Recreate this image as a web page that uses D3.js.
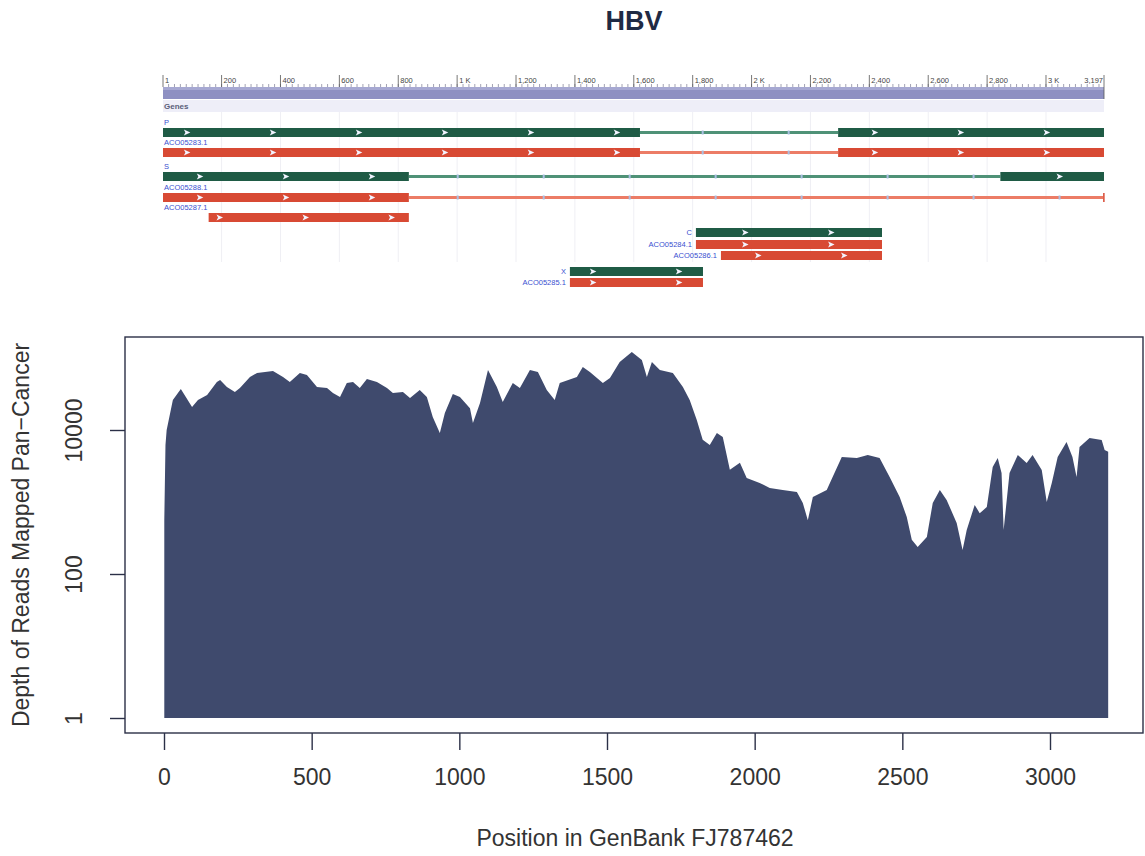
<!DOCTYPE html>
<html>
<head>
<meta charset="utf-8">
<script src="https://cdn.jsdelivr.net/npm/d3@7"></script>
<style>
  body { margin: 0; background: #ffffff; }
  svg { display: block; }
</style>
</head>
<body>
<svg id="chart" width="1145" height="856"></svg>
<script>
// ---- coverage profile (position in bp, read depth) ----
const chartTitle = "HBV";
const positions = [1, 5, 9, 30, 57, 95, 115, 146, 179, 190, 213, 240, 257, 291, 315, 369, 403, 426, 460, 484,
  518, 552, 572, 596, 619, 640, 663, 687, 721, 755, 775, 809, 833, 866, 890, 910, 934, 951, 978, 1002,
  1036, 1046, 1070, 1097, 1127, 1147, 1181, 1205, 1239, 1266, 1296, 1323, 1340, 1398, 1418, 1442, 1486, 1510, 1543, 1584,
  1618, 1635, 1652, 1679, 1723, 1757, 1780, 1804, 1824, 1848, 1872, 1892, 1916, 1950, 1973, 2017, 2051, 2095, 2143, 2163,
  2180, 2197, 2244, 2264, 2295, 2346, 2383, 2423, 2457, 2491, 2515, 2532, 2552, 2583, 2603, 2627, 2650, 2684, 2704, 2718,
  2745, 2762, 2786, 2806, 2823, 2836, 2843, 2863, 2891, 2921, 2941, 2972, 2989, 3006, 3026, 3056, 3076, 3090, 3100, 3134,
  3175, 3185, 3197];
const depths = [560, 6200, 10000, 26100, 37100, 20900, 26100, 30600, 46400, 49500, 39600, 33700, 38300, 54500, 61900, 65900, 54500, 46400, 61900, 58100,
  39600, 38300, 32700, 28700, 45000, 46400, 38300, 51100, 46400, 38300, 32700, 33700, 27800, 35900, 28700, 15200, 9100, 17200, 31500, 28700,
  20000, 12500, 23700, 68100, 39600, 24500, 45000, 38300, 68100, 63900, 35900, 26100, 45000, 54500, 75000, 63900, 45000, 52700, 88000, 121000,
  93800, 54500, 88000, 68100, 61900, 39600, 26100, 13800, 7300, 6200, 9100, 8000, 2800, 3500, 2150, 1840, 1570, 1470, 1380, 970,
  560, 1170, 1470, 2220, 4220, 4080, 4500, 4080, 2220, 1170, 620, 300, 237, 326, 970, 1470, 1070, 510, 215, 410,
  910, 700, 850, 3060, 4080, 2530, 410, 2530, 4500, 3480, 4500, 2780, 1000, 1840, 4220, 6810, 4220, 2220, 5810, 7740,
  7260, 5270, 5000];

const xTickValues = [0, 500, 1000, 1500, 2000, 2500, 3000];
const yTickValues = [1, 100, 10000];
const xAxisTitle = "Position in GenBank FJ787462";
const yAxisTitle = "Depth of Reads Mapped Pan\u2212Cancer";

// ---- genome annotation track ----
const genomeLength = 3197;
const rulerTicks = [1, 200, 400, 600, 800, 1000, 1200, 1400, 1600, 1800, 2000, 2200, 2400, 2600, 2800, 3000];
const rulerLabels = ["1", "200", "400", "600", "800", "1 K", "1,200", "1,400", "1,600", "1,800", "2 K", "2,200", "2,400", "2,600", "2,800", "3 K"];

const featureNames = ["P", "ACO05283.1", "S", "ACO05288.1", "ACO05287.1", "C", "ACO05284.1", "ACO05286.1", "X", "ACO05285.1"];
const featureTypes = ["gene", "cds", "gene", "cds", "cds", "gene", "cds", "cds", "gene", "cds"];
// solid blocks (bp)
const featureBlocks = [
  [[1, 1621], [2294, 3197]],
  [[1, 1621], [2294, 3197]],
  [[1, 836], [2845, 3197]],
  [[1, 836], [3194, 3197]],
  [[156, 836]],
  [[1811, 2443]],
  [[1811, 2443]],
  [[1896, 2443]],
  [[1383, 1835]],
  [[1383, 1835]]
];
// thin connecting spans (bp)
const featureLinks = [
  [[1621, 2294]],
  [[1621, 2294]],
  [[836, 2845]],
  [[836, 3194]],
  [], [], [], [], [], []
];
// first strand-arrow position of each feature (bp)
const featureArrowStart = [82, 82, 126, 126, 193, 1978, 1978, 2022, 1461, 1461];
const arrowSpacing = 292;

// ---- layout ----
const frame = { left: 125, right: 1143, top: 337, bottom: 733 };
const rowTops = [128, 148, 172, 193, 213, 228, 240, 251, 267, 278];
const labelSide = ["above", "above", "above", "above", "above", "left", "left", "left", "left", "left"];
const barH = 9;
const font = "'Liberation Sans', Arial, Helvetica, sans-serif";
const textColor = "#333333";
const axisColor = "#2b3047";
const areaColor = "#3f4a6d";
const geneColor = "#1f5b45", cdsColor = "#d84a34";
const geneLinkColor = "#4f9277", cdsLinkColor = "#ec7c66";

const svg = d3.select("#chart");

// title
svg.append("text")
  .attr("x", 634).attr("y", 30)
  .attr("text-anchor", "middle")
  .attr("font-family", font).attr("font-weight", "bold").attr("font-size", 27)
  .attr("fill", "#1f2a44")
  .text(chartTitle);

// ================= annotation track =================
const gx = d3.scaleLinear().domain([1, genomeLength]).range([163, 1104]);
const track = svg.append("g");

// faint vertical grid at ruler ticks
track.append("g").selectAll("line").data(rulerTicks.slice(1)).join("line")
  .attr("x1", d => gx(d)).attr("x2", d => gx(d))
  .attr("y1", 100).attr("y2", 262)
  .attr("stroke", "#efeff4").attr("stroke-width", 1);

// ruler band
track.append("rect")
  .attr("x", gx(1)).attr("y", 87)
  .attr("width", gx(genomeLength) - gx(1)).attr("height", 12)
  .attr("fill", "#8e90c2");
track.append("rect")
  .attr("x", gx(1)).attr("y", 87)
  .attr("width", gx(genomeLength) - gx(1)).attr("height", 3)
  .attr("fill", "#a6a8d2");

// minor ruler ticks
track.append("g").selectAll("line").data(d3.range(20, genomeLength, 20)).join("line")
  .attr("x1", d => gx(d)).attr("x2", d => gx(d))
  .attr("y1", 84).attr("y2", 87)
  .attr("stroke", "#8a8aa0").attr("stroke-width", 0.8);

// major ruler ticks and labels
const rt = track.append("g").selectAll("g").data(rulerTicks).join("g")
  .attr("transform", d => `translate(${gx(d)},0)`);
rt.append("line").attr("y1", 75).attr("y2", 87)
  .attr("stroke", "#555").attr("stroke-width", 0.8);
rt.append("text")
  .attr("x", 2).attr("y", 83)
  .attr("font-family", font).attr("font-size", 7.5).attr("fill", "#444")
  .text((d, i) => rulerLabels[i]);
track.append("line")
  .attr("x1", gx(genomeLength)).attr("x2", gx(genomeLength))
  .attr("y1", 75).attr("y2", 99).attr("stroke", "#555").attr("stroke-width", 0.8);
track.append("text")
  .attr("x", gx(genomeLength) - 1).attr("y", 83)
  .attr("text-anchor", "end")
  .attr("font-family", font).attr("font-size", 7.5).attr("fill", "#444")
  .text(d3.format(",")(genomeLength));

// "Genes" header strip
track.append("rect")
  .attr("x", gx(1)).attr("y", 100)
  .attr("width", gx(genomeLength) - gx(1)).attr("height", 12)
  .attr("fill", "#eeeef8");
track.append("text")
  .attr("x", 164).attr("y", 109)
  .attr("font-family", font).attr("font-weight", "bold").attr("font-size", 8)
  .attr("fill", "#5a5e78")
  .text("Genes");

// features
const arrowPath = "M-3,-3 L3.5,0 L-3,3 L-1.5,0 Z";
featureNames.forEach((name, i) => {
  const g = track.append("g");
  const top = rowTops[i];
  const mid = top + barH / 2;
  const solid = featureTypes[i] === "gene" ? geneColor : cdsColor;
  const link = featureTypes[i] === "gene" ? geneLinkColor : cdsLinkColor;

  g.selectAll("rect.link").data(featureLinks[i]).join("rect")
    .attr("class", "link")
    .attr("x", d => gx(d[0])).attr("y", mid - 1.5)
    .attr("width", d => gx(d[1]) - gx(d[0])).attr("height", 3)
    .attr("fill", link);

  g.selectAll("rect.block").data(featureBlocks[i]).join("rect")
    .attr("class", "block")
    .attr("x", d => gx(d[0])).attr("y", top)
    .attr("width", d => Math.max(1.5, gx(d[1]) - gx(d[0]))).attr("height", barH)
    .attr("fill", solid);

  // strand arrows: white on solid blocks, small pale marks on thin spans
  const arrows = d3.range(featureArrowStart[i], genomeLength, arrowSpacing);
  const onBlock = arrows.filter(p => featureBlocks[i].some(b => p > b[0] + 10 && p < b[1] - 10));
  const onLink = arrows.filter(p => featureLinks[i].some(b => p > b[0] && p < b[1]));
  g.selectAll("path").data(onBlock).join("path")
    .attr("transform", p => `translate(${gx(p)},${mid})`)
    .attr("d", arrowPath)
    .attr("fill", "#f2f4ff");
  g.selectAll("rect.mark").data(onLink).join("rect")
    .attr("class", "mark")
    .attr("x", p => gx(p) - 1).attr("y", mid - 2)
    .attr("width", 2).attr("height", 4)
    .attr("fill", "#a9bde0");

  const t = g.append("text")
    .attr("font-family", font).attr("font-size", 7.5)
    .attr("fill", "#3a4fd0")
    .text(name);
  if (labelSide[i] === "above") {
    t.attr("x", 164).attr("y", top - 3);
  } else {
    t.attr("x", gx(featureBlocks[i][0][0]) - 4).attr("y", top + 7)
      .attr("text-anchor", "end");
  }
});

// ================= coverage plot =================
const x = d3.scaleLinear().domain([0, 3000]).range([164, 1050]);
const y = d3.scaleLog().domain([1, 10000]).range([718, 430]);

const coverage = positions.map((p, i) => ({ p, d: depths[i] }));
const area = d3.area()
  .x(d => x(d.p))
  .y0(y(1))
  .y1(d => y(d.d))
  .curve(d3.curveLinear);

svg.append("path")
  .datum(coverage)
  .attr("d", area)
  .attr("fill", areaColor);

// frame
svg.append("rect")
  .attr("x", frame.left).attr("y", frame.top)
  .attr("width", frame.right - frame.left).attr("height", frame.bottom - frame.top)
  .attr("fill", "none").attr("stroke", axisColor).attr("stroke-width", 1.4);

// x axis
const xAxis = d3.axisBottom(x).tickValues(xTickValues).tickSize(17).tickPadding(19).tickFormat(d3.format("d"));
const xg = svg.append("g").attr("transform", `translate(0,${frame.bottom})`).call(xAxis);
xg.select(".domain").remove();
xg.selectAll(".tick line").attr("stroke", axisColor).attr("stroke-width", 1.4);
xg.selectAll(".tick text")
  .attr("font-family", font).attr("font-size", 23).attr("fill", textColor);

// y axis (labels parallel to the axis)
const yAxis = d3.axisLeft(y).tickValues(yTickValues).tickSize(15).tickFormat(d3.format("d"));
const yg = svg.append("g").attr("transform", `translate(${frame.left},0)`).call(yAxis);
yg.select(".domain").remove();
yg.selectAll(".tick line").attr("stroke", axisColor).attr("stroke-width", 1.4);
yg.selectAll(".tick text")
  .attr("font-family", font).attr("font-size", 23).attr("fill", textColor)
  .attr("text-anchor", "middle")
  .attr("dy", null)
  .attr("transform", "rotate(-90)")
  .attr("x", 0).attr("y", -43);

// axis titles
svg.append("text")
  .attr("x", 635).attr("y", 846)
  .attr("text-anchor", "middle")
  .attr("font-family", font).attr("font-size", 23).attr("fill", textColor)
  .text(xAxisTitle);
svg.append("text")
  .attr("transform", `translate(29,${(frame.top + frame.bottom) / 2}) rotate(-90)`)
  .attr("text-anchor", "middle")
  .attr("font-family", font).attr("font-size", 23).attr("fill", textColor)
  .text(yAxisTitle);
</script>
</body>
</html>
